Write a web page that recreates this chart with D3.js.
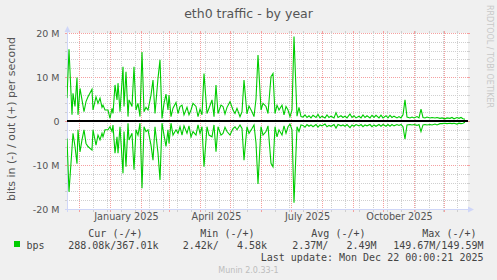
<!DOCTYPE html>
<html>
<head>
<meta charset="utf-8">
<script src="https://cdn.jsdelivr.net/npm/d3@7"></script>
<style>
  body { margin: 0; background: #f0f0f0; }
  svg { display: block; }
  text { font-family: "DejaVu Sans", sans-serif; fill: #555; }
  .mono { font-family: "DejaVu Sans Mono", monospace; white-space: pre; font-size: 10px; fill: #444; }
</style>
</head>
<body>
<svg id="chart" width="497" height="280"></svg>
<script>
// daily samples (Mbit/s), out is positive, in is negative
const dates = [
  "2024-11-19","2024-11-21","2024-11-24","2024-11-25","2024-11-27","2024-11-29","2024-11-30",
  "2024-12-02","2024-12-04","2024-12-06","2024-12-08","2024-12-10","2024-12-14","2024-12-15",
  "2024-12-18","2024-12-20","2024-12-22","2024-12-24","2024-12-25","2024-12-27","2024-12-30",
  "2025-01-01","2025-01-03","2025-01-04","2025-01-06","2025-01-08","2025-01-09","2025-01-11",
  "2025-01-14","2025-01-15","2025-01-17","2025-01-19","2025-01-20","2025-01-23","2025-01-25",
  "2025-01-27","2025-01-29","2025-01-31","2025-02-02","2025-02-04","2025-02-06","2025-02-08",
  "2025-02-11","2025-02-13","2025-02-15","2025-02-18","2025-02-20","2025-02-22","2025-02-24",
  "2025-02-26","2025-02-28","2025-03-01","2025-03-03","2025-03-05","2025-03-08","2025-03-10",
  "2025-03-12","2025-03-14","2025-03-16","2025-03-19","2025-03-21","2025-03-23","2025-03-25",
  "2025-03-28","2025-03-30","2025-04-01","2025-04-03","2025-04-05","2025-04-08","2025-04-10",
  "2025-04-13","2025-04-15","2025-04-17","2025-04-19","2025-04-22","2025-04-24","2025-04-26",
  "2025-04-28","2025-05-01","2025-05-04","2025-05-06","2025-05-08","2025-05-11","2025-05-13",
  "2025-05-15","2025-05-18","2025-05-20","2025-05-23","2025-05-25","2025-05-27","2025-05-29",
  "2025-06-01","2025-06-03","2025-06-06","2025-06-08","2025-06-11","2025-06-13","2025-06-15",
  "2025-06-17","2025-06-19","2025-06-22","2025-06-24","2025-06-26","2025-06-28","2025-06-30",
  "2025-07-02","2025-07-04","2025-07-07","2025-07-09","2025-07-11","2025-07-13","2025-07-15",
  "2025-07-17","2025-07-19","2025-07-21","2025-07-23","2025-07-26","2025-07-28","2025-07-30",
  "2025-08-01","2025-08-04","2025-08-06","2025-08-08","2025-08-10","2025-08-13","2025-08-15",
  "2025-08-17","2025-08-20","2025-08-22","2025-08-24","2025-08-26","2025-08-29","2025-08-31",
  "2025-09-02","2025-09-04","2025-09-07","2025-09-09","2025-09-11","2025-09-13","2025-09-15",
  "2025-09-18","2025-09-20","2025-09-22","2025-09-24","2025-09-27","2025-09-29","2025-10-01",
  "2025-10-04","2025-10-06","2025-10-08","2025-10-10","2025-10-12","2025-10-15","2025-10-17",
  "2025-10-19","2025-10-21","2025-10-23","2025-10-25","2025-10-28","2025-10-30","2025-11-01",
  "2025-11-04","2025-11-06","2025-11-08","2025-11-10","2025-11-12","2025-11-14","2025-11-17",
  "2025-11-19","2025-11-22","2025-11-24","2025-11-27","2025-11-29","2025-12-02","2025-12-04",
  "2025-12-07","2025-12-09","2025-12-11","2025-12-14","2025-12-16","2025-12-18","2025-12-20",
  "2025-12-22"
];
const outMbps = [
  5.2,16.3,1.4,6.3,3.3,9.9,1.4,
  7.4,4.8,2.1,4.4,5.5,7.2,2.5,
  5.5,4.0,5.2,3.1,3.6,2.5,2.5,
  0.6,2.9,1.7,8.2,4.8,8.6,2.1,
  12.3,3.3,11.2,1.0,4.8,3.3,12.3,
  2.5,4.0,1.0,15.7,2.1,3.1,2.5,
  5.9,9.3,1.7,9.7,13.9,0.6,4.0,
  6.1,2.5,5.9,1.0,2.9,4.2,1.7,
  3.3,3.6,1.4,3.1,1.4,2.5,4.0,
  3.3,1.0,2.7,1.4,10.8,1.7,2.9,
  4.8,1.0,8.2,1.7,3.6,3.3,1.6,
  3.1,4.4,2.5,1.7,2.9,1.0,2.1,
  9.3,1.6,3.4,2.1,1.0,5.0,15.0,
  2.5,4.0,3.3,1.7,10.1,10.8,1.7,
  3.6,2.5,3.6,1.4,3.3,2.5,1.0,
  2.5,19.2,1.1,3.1,1.0,0.9,1.4,
  0.8,1.2,0.7,1.3,0.8,1.5,0.7,
  1.1,0.7,1.4,0.8,1.1,0.7,1.9,
  0.8,1.2,0.8,1.1,0.7,1.6,0.8,
  1.2,0.7,1.1,0.7,1.4,0.8,1.2,
  0.7,1.3,0.8,1.3,0.7,1.3,0.7,
  1.2,0.7,1.3,0.8,1.1,0.7,1.0,
  0.7,1.4,4.8,0.9,0.7,0.9,0.7,
  1.0,0.7,2.7,0.8,0.7,0.9,0.7,
  0.8,0.7,0.8,0.6,0.7,0.5,0.7,
  0.6,0.8,0.5,0.8,0.6,0.8,0.5,
  0.4
];
const inMbps = [
  -4.0,-16.1,-6.2,-2.8,-5.8,-9.7,-2.0,
  -7.0,-4.3,-2.0,-5.1,-5.8,-6.6,-2.0,
  -5.5,-3.2,-4.3,-2.8,-3.6,-2.0,-2.0,
  -1.3,-2.4,-0.9,-7.3,-3.6,-7.3,-1.3,
  -11.9,-2.4,-10.4,-0.5,-4.3,-2.8,-11.1,
  -2.0,-3.2,-0.5,-15.3,-1.3,-2.4,-2.0,
  -5.5,-8.9,-1.3,-7.3,-13.4,-0.5,-3.2,
  -5.8,-2.0,-5.1,-0.5,-3.2,-2.0,-2.8,
  -1.3,-3.2,-1.1,-2.8,-1.1,-3.6,-2.4,
  -3.2,-0.9,-2.8,-1.3,-10.4,-1.3,-3.2,
  -3.6,-0.9,-7.0,-1.3,-3.2,-2.8,-1.4,
  -2.4,-3.2,-1.7,-1.3,-2.0,-0.9,-1.7,
  -8.9,-1.3,-2.8,-1.7,-0.9,-5.0,-14.3,
  -1.3,-3.2,-2.4,-1.1,-9.6,-10.4,-1.3,
  -3.6,-2.0,-3.2,-1.1,-2.8,-1.3,-0.7,
  -2.0,-18.6,-1.3,-2.4,-0.9,-1.0,-1.4,
  -0.8,-1.2,-0.9,-1.3,-0.8,-1.4,-0.9,
  -1.1,-0.7,-1.3,-1.0,-1.2,-0.8,-1.6,
  -0.8,-1.1,-0.9,-1.2,-0.8,-1.5,-0.9,
  -1.2,-0.8,-1.1,-0.8,-1.3,-0.9,-1.1,
  -0.8,-1.3,-0.9,-1.2,-0.8,-1.2,-0.8,
  -1.2,-0.8,-1.2,-0.8,-1.1,-0.8,-1.0,
  -0.8,-1.3,-4.1,-0.9,-0.8,-0.9,-0.8,
  -1.0,-0.8,-2.4,-0.9,-0.8,-0.9,-0.8,
  -0.9,-0.7,-0.9,-0.6,-0.6,-0.5,-0.6,
  -0.5,-0.6,-0.5,-0.7,-0.5,-0.6,-0.5,
  -0.3
];

const yTickValues = [-20, -10, 0, 10, 20];
const yTickLabels = ["-20 M", "-10 M", "0", "10 M", "20 M"];
const monthLabels = ["January 2025", "April 2025", "July 2025", "October 2025"];
const monthLabelStarts = ["2025-01-01", "2025-04-01", "2025-07-01", "2025-10-01"];

const legendHeaders = ["Cur (-/+)", "Min (-/+)", "Avg (-/+)", "Max (-/+)"];
const legendValues = ["288.08k/367.01k", "2.42k/   4.58k", "2.37M/   2.49M", "149.67M/149.59M"];
const lastUpdate = "Last update: Mon Dec 22 00:00:21 2025";

const parse = d3.timeParse("%Y-%m-%d");
const svg = d3.select("#chart");

// plot box, munin style 400x176
const pL = 67, pR = 467, pT = 33, pB = 209;
const startDate = parse("2024-11-19");
const endDate = d3.timeDay.offset(startDate, 400);

const x = d3.scaleTime().domain([startDate, endDate]).range([pL, pR]);
const y = d3.scaleLinear().domain([-20, 20]).range([pB, pT]);

const minorColor = "#cfcfcf";
const majorColor = "#f5a0a0";
const axisColor = "#cfd6f8";

// canvas
svg.append("rect")
    .attr("x", pL).attr("y", pT)
    .attr("width", pR - pL + 1).attr("height", pB - pT)
    .attr("fill", "#fff");

const grid = svg.append("g").attr("shape-rendering", "crispEdges");

// horizontal grid, every 2M, red every 10M
const hLines = d3.range(-20, 20.1, 2);
hLines.forEach(v => {
    const major = v % 10 === 0;
    const yy = Math.round(y(v)) + 0.5;
    const c = major ? majorColor : minorColor;
    grid.append("line").attr("x1", pL).attr("x2", pR + 1).attr("y1", yy).attr("y2", yy)
        .attr("stroke", c).attr("stroke-dasharray", "1,1");
    grid.append("line").attr("x1", pL - 2).attr("x2", pL).attr("y1", yy).attr("y2", yy).attr("stroke", c);
    grid.append("line").attr("x1", pR + 1).attr("x2", pR + 3).attr("y1", yy).attr("y2", yy).attr("stroke", c);
});

// vertical grid: every other Sunday (minor), month starts (major)
const minorDays = d3.timeDay.range(parse("2024-12-01"), endDate, 14);
const monthDays = d3.timeMonth.range(startDate, endDate);
function vLine(d, c) {
    const xx = Math.round(x(d)) + 0.5;
    grid.append("line").attr("x1", xx).attr("x2", xx).attr("y1", pT).attr("y2", pB)
        .attr("stroke", c).attr("stroke-dasharray", "1,1");
    grid.append("line").attr("x1", xx).attr("x2", xx).attr("y1", pT - 2).attr("y2", pT).attr("stroke", c);
    grid.append("line").attr("x1", xx).attr("x2", xx).attr("y1", pB).attr("y2", pB + 3).attr("stroke", c);
}
minorDays.forEach(d => vLine(d, minorColor));
monthDays.forEach(d => vLine(d, majorColor));

// axes lines + arrows
svg.append("line").attr("x1", pL - 2).attr("x2", pR + 4).attr("y1", pB + 0.5).attr("y2", pB + 0.5)
    .attr("stroke", axisColor).attr("shape-rendering", "crispEdges");
svg.append("line").attr("x1", pL + 0.5).attr("x2", pL + 0.5).attr("y1", pB + 3).attr("y2", pT - 4)
    .attr("stroke", axisColor).attr("shape-rendering", "crispEdges");
svg.append("path").attr("d", `M${pR + 1},${pB - 2.5}L${pR + 7},${pB + 0.5}L${pR + 1},${pB + 3.5}Z`)
    .attr("fill", axisColor);
svg.append("path").attr("d", `M${pL - 2.5},${pT - 1}L${pL + 0.5},${pT - 7}L${pL + 3.5},${pT - 1}Z`)
    .attr("fill", axisColor);

// data
svg.append("clipPath").attr("id", "plotClip")
    .append("rect").attr("x", pL).attr("y", pT).attr("width", pR - pL + 1).attr("height", pB - pT + 1);

const rows = dates.map((d, i) => ({ date: parse(d), out: outMbps[i], in: inMbps[i] }));

// zero rule
svg.append("line").attr("x1", pL).attr("x2", pR + 1).attr("y1", y(0)).attr("y2", y(0))
    .attr("stroke", "#000").attr("stroke-width", 1.8);

const plot = svg.append("g").attr("clip-path", "url(#plotClip)");
["out", "in"].forEach(k => {
    plot.append("path")
        .datum(rows)
        .attr("fill", "none")
        .attr("stroke", "#00cc00")
        .attr("stroke-width", 1.1)
        .attr("d", d3.line().x(d => x(d.date)).y(d => y(d[k])));
});

// y axis labels
const yAxis = svg.append("g")
    .attr("transform", `translate(${pL},0)`)
    .call(d3.axisLeft(y).tickValues(yTickValues).tickSize(0).tickPadding(7.5)
        .tickFormat((d, i) => yTickLabels[i]));
yAxis.select(".domain").remove();
yAxis.selectAll("text").attr("font-family", "DejaVu Sans").attr("font-size", 9.5).attr("fill", "#555")
    .attr("dy", "0.37em");

// x axis labels, centred mid month like rrdtool
const xAxis = svg.append("g")
    .attr("transform", `translate(0,${pB})`)
    .call(d3.axisBottom(x)
        .tickValues(monthLabelStarts.map(s => d3.timeDay.offset(parse(s), 16)))
        .tickSize(0).tickPadding(4.5)
        .tickFormat((d, i) => monthLabels[i]));
xAxis.select(".domain").remove();
xAxis.selectAll("text").attr("font-family", "DejaVu Sans").attr("font-size", 9.7).attr("fill", "#555");

// title and side texts
svg.append("text").attr("x", 248.5).attr("y", 18).attr("text-anchor", "middle")
    .attr("font-size", 12.5).text("eth0 traffic - by year");

svg.append("text").attr("transform", "translate(14.5,119) rotate(-90)").attr("text-anchor", "middle")
    .attr("font-size", 11).text("bits in (-) / out (+) per second");

svg.append("text").attr("transform", "translate(486.5,5) rotate(90)")
    .attr("font-size", 8).attr("textLength", 103).attr("lengthAdjust", "spacing")
    .style("fill", "#c8c8c8").text("RRDTOOL / TOBI OETIKER");

// legend
const headerEnds = [142.5, 254.5, 365.5, 476.5];
const valueEnds = [158.5, 267, 376.5, 483.5];
legendHeaders.forEach((h, i) => {
    svg.append("text").attr("class", "mono").attr("x", headerEnds[i]).attr("y", 237)
        .attr("text-anchor", "end").text(h);
    svg.append("text").attr("class", "mono").attr("x", valueEnds[i]).attr("y", 249)
        .attr("text-anchor", "end").text(legendValues[i]);
});
svg.append("rect").attr("x", 14).attr("y", 241).attr("width", 6).attr("height", 6).attr("fill", "#00cc00");
svg.append("text").attr("class", "mono").attr("x", 26.5).attr("y", 249).text("bps");
svg.append("text").attr("class", "mono").attr("x", 483.5).attr("y", 261)
    .attr("text-anchor", "end").text(lastUpdate);

svg.append("text").attr("x", 248.5).attr("y", 272.5).attr("text-anchor", "middle")
    .attr("font-size", 8).style("fill", "#bdbdbd").text("Munin 2.0.33-1");
</script>
</body>
</html>
